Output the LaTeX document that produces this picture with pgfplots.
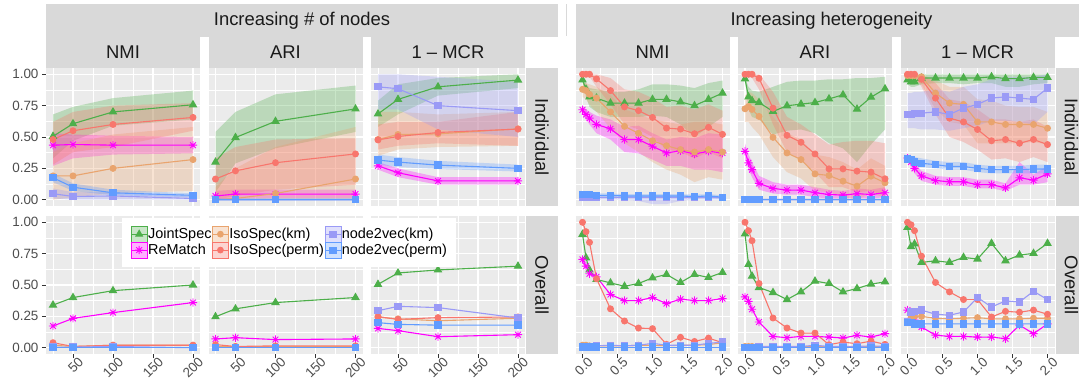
\documentclass[border=0pt]{standalone}
\usepackage{pgfplots}
\pgfplotsset{compat=1.18}
\usepackage{pgfplotstable}
\usepackage{fontspec}
\setmainfont{Liberation Sans}

\definecolor{cJS}{HTML}{4DAF4A}
\definecolor{cRM}{HTML}{FF00FF}
\definecolor{cIK}{HTML}{E9A46E}
\definecolor{cIP}{HTML}{F8766D}
\definecolor{cNK}{HTML}{9A9AF6}
\definecolor{cNP}{HTML}{619CFF}
\definecolor{panelbg}{HTML}{EBEBEB}
\definecolor{stripbg}{HTML}{D9D9D9}
\definecolor{striptext}{HTML}{1A1A1A}
\definecolor{ticktext}{HTML}{4D4D4D}
\definecolor{tickcol}{HTML}{333333}

% eight-armed asterisk (+ and x)
\pgfdeclareplotmark{ast8}{%
  \pgfpathmoveto{\pgfpoint{0pt}{\pgfplotmarksize}}%
  \pgfpathlineto{\pgfpoint{0pt}{-\pgfplotmarksize}}%
  \pgfpathmoveto{\pgfpoint{\pgfplotmarksize}{0pt}}%
  \pgfpathlineto{\pgfpoint{-\pgfplotmarksize}{0pt}}%
  \pgfpathmoveto{\pgfpoint{0.7071\pgfplotmarksize}{0.7071\pgfplotmarksize}}%
  \pgfpathlineto{\pgfpoint{-0.7071\pgfplotmarksize}{-0.7071\pgfplotmarksize}}%
  \pgfpathmoveto{\pgfpoint{0.7071\pgfplotmarksize}{-0.7071\pgfplotmarksize}}%
  \pgfpathlineto{\pgfpoint{-0.7071\pgfplotmarksize}{0.7071\pgfplotmarksize}}%
  \pgfusepathqstroke}

\tikzset{
  sJS/.style={cJS, line width=1.1bp, mark=triangle*, mark size=3.9bp, mark options={solid}},
  sRM/.style={cRM, line width=1.1bp, mark=ast8, mark size=4.1bp, mark options={solid, line width=0.9bp}},
  sIK/.style={cIK, line width=1.1bp, mark=*, mark size=2.9bp, mark options={solid}},
  sIP/.style={cIP, line width=1.1bp, mark=*, mark size=2.9bp, mark options={solid}},
  sNK/.style={cNK, line width=1.1bp, mark=square*, mark size=3.1bp, mark options={solid}},
  sNP/.style={cNP, line width=1.1bp, mark=square*, mark size=3.1bp, mark options={solid}},
}

\pgfplotsset{
  facet/.style={
    scale only axis, width=154bp, height=138bp, anchor=north west,
    ymin=-0.05, ymax=1.05,
    ytick={0,0.25,0.5,0.75,1}, minor ytick={0.125,0.375,0.625,0.875},
    yticklabels={0.00,0.25,0.50,0.75,1.00},
    axis background/.style={fill=panelbg},
    grid=both,
    major grid style={white, line width=1.1bp},
    minor grid style={white, line width=0.5bp},
    axis line style={draw=none},
    tick align=outside, major tick length=4bp, minor tick length=0pt,
    tick style={tickcol, line width=0.9bp},
    xtick pos=left, ytick pos=left,
    ticklabel style={font=\fontsize{13.5}{14}\selectfont, text=ticktext},
    /pgf/number format/assume math mode=true,
  },
  nodesx/.style={xmin=16.25, xmax=208.75, xtick={50,100,150,200},
    minor xtick={25,75,125,175}, xticklabels={50,100,150,200}},
  hetx/.style={xmin=-0.1, xmax=2.1, xtick={0,0.5,1,1.5,2},
    minor xtick={0.25,0.75,1.25,1.75}, xticklabels={0.0,0.5,1.0,1.5,2.0}},
  noxlab/.style={xticklabels={}, xtick style={draw=none}},
  noylab/.style={yticklabels={}, ytick style={draw=none}},
  xrot/.style={xticklabel style={xshift=4.5bp, yshift=3.5bp, rotate=45,
    anchor=north east, inner sep=1bp}},
}

% shaded bands: each column is a closed outline (upper edge, then lower edge back)
\newcommand{\allribbons}[1]{%
  \addplot[fill=cJS, fill opacity=0.3, draw=none, forget plot] table[x=x, y=js] {#1};
  \addplot[fill=cRM, fill opacity=0.3, draw=none, forget plot] table[x=x, y=rm] {#1};
  \addplot[fill=cIK, fill opacity=0.3, draw=none, forget plot] table[x=x, y=ik] {#1};
  \addplot[fill=cIP, fill opacity=0.3, draw=none, forget plot] table[x=x, y=ip] {#1};
  \addplot[fill=cNK, fill opacity=0.3, draw=none, forget plot] table[x=x, y=nk] {#1};
  \addplot[fill=cNP, fill opacity=0.3, draw=none, forget plot] table[x=x, y=np] {#1};
}
\newcommand{\alllines}[1]{%
  \addplot[sJS, forget plot] table[x=x, y=js] {#1};
  \addplot[sRM, forget plot] table[x=x, y=rm] {#1};
  \addplot[sIK, forget plot] table[x=x, y=ik] {#1};
  \addplot[sIP, forget plot] table[x=x, y=ip] {#1};
  \addplot[sNK, forget plot] table[x=x, y=nk] {#1};
  \addplot[sNP, forget plot] table[x=x, y=np] {#1};
}
% legend key: shaded box, line and mark
\newcommand{\legkey}[3]{%
  \fill[#1, fill opacity=0.3] (0bp,-7.75bp) rectangle (15.5bp,7.75bp);
  \draw[#1, line width=1.1bp] (0bp,0bp) -- (15.5bp,0bp);
  \draw[#1, mark size=#3, line width=0.9bp] plot[mark=#2] coordinates {(7.75bp,0bp)};
}

% ================= increasing number of nodes =================
% individual: means
\pgfplotstableread{
x   js    rm    ik   ip    nk    np
25  0.505 0.435 0.19 0.48  0.048 0.175
50  0.606 0.44  0.19 0.55  0.026 0.10
100 0.700 0.435 0.25 0.60  0.030 0.055
200 0.757 0.435 0.32 0.656 0.010 0.035
}\LIN
\pgfplotstableread{
x   js    rm    ik    ip    nk   np
25  0.30  0.03  0.00  0.165 0.00 0.00
50  0.496 0.045 0.01  0.23  0.00 0.00
100 0.625 0.045 0.05  0.295 0.00 0.00
200 0.724 0.045 0.165 0.365 0.00 0.00
}\LIA
\pgfplotstableread{
x   js    rm    ik    ip    nk    np
25  0.684 0.27  0.48  0.477 0.90  0.316
50  0.80  0.215 0.52  0.504 0.885 0.30
100 0.90  0.15  0.525 0.536 0.75  0.276
200 0.954 0.15  0.565 0.563 0.71  0.25
}\LIM
% individual: bands
\pgfplotstableread{
x   js   rm   ik   ip   nk   np
25  0.68 0.53 0.38 0.62 0.09 0.21
50  0.74 0.52 0.45 0.70 0.06 0.13
100 0.81 0.51 0.52 0.75 0.06 0.08
200 0.87 0.50 0.58 0.77 0.03 0.05
200 0.64 0.37 0.07 0.55 0.00 0.02
100 0.59 0.36 0.05 0.42 0.00 0.035
50  0.47 0.33 0.02 0.38 0.00 0.07
25  0.33 0.27 0.00 0.28 0.01 0.14
}\LINb
\pgfplotstableread{
x   js   rm    ik   ip   nk    np
25  0.54 0.07  0.10 0.33 0.01  0.01
50  0.70 0.08  0.25 0.42 0.01  0.01
100 0.84 0.08  0.42 0.48 0.01  0.01
200 0.91 0.08  0.58 0.49 0.01  0.01
200 0.54 0.015 0.00 0.12 -0.01 -0.01
100 0.41 0.015 0.00 0.08 -0.01 -0.01
50  0.29 0.01  0.00 0.03 -0.01 -0.01
25  0.06 0.00  0.00 0.00 -0.01 -0.01
}\LIAb
\pgfplotstableread{
x   js   rm   ik   ip   nk   np
25  0.79 0.30 0.70 0.60 1.00 0.36
50  0.92 0.25 0.70 0.62 1.00 0.34
100 0.97 0.18 0.68 0.62 0.98 0.31
200 1.00 0.18 0.70 0.70 0.94 0.28
200 0.89 0.12 0.43 0.43 0.50 0.225
100 0.83 0.12 0.42 0.45 0.56 0.245
50  0.68 0.18 0.40 0.43 0.72 0.26
25  0.58 0.24 0.35 0.40 0.72 0.28
}\LIMb
% overall
\pgfplotstableread{
x   js    rm    ik   ip   nk    np
25  0.34  0.173 0.02 0.04 0.005 0.00
50  0.40  0.234 0.01 0.01 0.005 0.00
100 0.455 0.28  0.02 0.02 0.01  0.00
200 0.50  0.36  0.02 0.02 0.00  0.00
}\LON
\pgfplotstableread{
x   js    rm    ik   ip    nk   np
25  0.247 0.07  0.01 0.025 0.00 0.00
50  0.31  0.08  0.01 0.01  0.00 0.00
100 0.36  0.065 0.01 0.015 0.00 0.00
200 0.40  0.07  0.01 0.015 0.00 0.00
}\LOA
\pgfplotstableread{
x   js    rm    ik    ip    nk    np
25  0.505 0.154 0.245 0.247 0.295 0.20
50  0.596 0.136 0.23  0.226 0.33  0.186
100 0.62  0.088 0.215 0.24  0.32  0.18
200 0.65  0.104 0.235 0.245 0.237 0.18
}\LOM

% ================= increasing heterogeneity =================
% individual: means
\pgfplotstableread{
x    js    rm    ik    ip    nk    np
0    0.955 0.717 0.88  1.00  0.015 0.04
0.05 0.88  0.68  0.87  1.00  0.015 0.04
0.1  0.82  0.65  0.84  1.00  0.015 0.04
0.2  0.81  0.60  0.81  0.963 0.015 0.035
0.4  0.77  0.565 0.70  0.87  0.015 0.035
0.6  0.77  0.48  0.585 0.74  0.015 0.03
0.8  0.77  0.48  0.53  0.71  0.015 0.03
1.0  0.80  0.426 0.47  0.656 0.015 0.03
1.2  0.80  0.373 0.43  0.571 0.015 0.03
1.4  0.78  0.39  0.40  0.563 0.015 0.03
1.6  0.75  0.365 0.38  0.526 0.015 0.025
1.8  0.80  0.386 0.40  0.577 0.015 0.03
2.0  0.85  0.373 0.38  0.521 0.015 0.02
}\RIN
\pgfplotstableread{
x    js    rm    ik    ip    nk   np
0    0.963 0.386 0.725 1.00  0.00 0.00
0.05 0.82  0.294 0.743 1.00  0.00 0.00
0.1  0.79  0.24  0.72  1.00  0.00 0.00
0.2  0.775 0.13  0.664 0.968 0.00 0.00
0.4  0.704 0.09  0.497 0.73  0.00 0.00
0.6  0.749 0.077 0.373 0.513 0.00 0.00
0.8  0.762 0.077 0.32  0.458 0.00 0.00
1.0  0.775 0.056 0.206 0.365 0.00 0.00
1.2  0.804 0.042 0.193 0.246 0.00 0.00
1.4  0.836 0.037 0.148 0.246 0.00 0.00
1.6  0.722 0.048 0.108 0.228 0.00 0.00
1.8  0.817 0.042 0.188 0.22  0.00 0.00
2.0  0.884 0.056 0.135 0.167 0.00 0.00
}\RIA
\pgfplotstableread{
x    js    rm    ik   ip   nk    np
0    0.955 0.333 0.99 1.00 0.677 0.325
0.05 0.94  0.30  0.99 1.00 0.68  0.32
0.1  0.94  0.25  0.99 1.00 0.685 0.30
0.2  0.97  0.19  0.98 0.96 0.69  0.29
0.4  0.97  0.153 0.85 0.81 0.70  0.28
0.6  0.97  0.143 0.77 0.65 0.68  0.265
0.8  0.97  0.143 0.76 0.62 0.73  0.265
1.0  0.97  0.12  0.62 0.56 0.76  0.25
1.2  0.98  0.12  0.62 0.47 0.81  0.24
1.4  0.965 0.095 0.60 0.48 0.82  0.24
1.6  0.965 0.175 0.60 0.45 0.81  0.24
1.8  0.975 0.156 0.60 0.48 0.80  0.245
2.0  0.975 0.206 0.57 0.44 0.89  0.245
}\RIM
% individual: bands
\pgfplotstableread{
x    js   rm   ik   ip   nk     np
0    0.97 0.75 0.93 1.00 0.03   0.055
0.05 0.93 0.72 0.93 1.00 0.03   0.055
0.1  0.89 0.70 0.92 1.00 0.03   0.055
0.2  0.88 0.67 0.90 1.00 0.03   0.05
0.4  0.86 0.64 0.83 0.97 0.03   0.05
0.6  0.86 0.58 0.72 0.88 0.03   0.045
0.8  0.88 0.59 0.68 0.86 0.03   0.045
1.0  0.92 0.53 0.64 0.81 0.03   0.045
1.2  0.92 0.48 0.62 0.74 0.03   0.045
1.4  0.91 0.50 0.60 0.75 0.03   0.045
1.6  0.89 0.49 0.62 0.72 0.03   0.04
1.8  0.93 0.53 0.62 0.76 0.03   0.045
2.0  0.95 0.52 0.60 0.71 0.03   0.035
2.0  0.66 0.22 0.16 0.33 0.00   0.005
1.8  0.58 0.24 0.18 0.38 0.00   0.015
1.6  0.50 0.24 0.14 0.33 0.00   0.01
1.4  0.60 0.27 0.20 0.38 -0.01  0.015
1.2  0.66 0.27 0.24 0.40 -0.035 0.015
1.0  0.67 0.32 0.30 0.50 -0.035 0.015
0.8  0.66 0.37 0.38 0.56 -0.01  0.015
0.6  0.66 0.38 0.45 0.60 0.00   0.015
0.4  0.66 0.48 0.57 0.76 0.00   0.02
0.2  0.70 0.53 0.70 0.90 0.00   0.02
0.1  0.74 0.60 0.76 0.98 0.00   0.025
0.05 0.82 0.64 0.80 1.00 0.00   0.025
0    0.94 0.68 0.82 1.00 0.00   0.025
}\RINb
\pgfplotstableread{
x    js   rm    ik   ip   nk    np
0    0.97 0.45  0.83 1.00 0.01  0.005
0.05 0.90 0.36  0.86 1.00 0.01  0.005
0.1  0.87 0.30  0.85 1.00 0.01  0.005
0.2  0.86 0.19  0.80 1.00 0.01  0.005
0.4  0.90 0.14  0.66 0.86 0.01  0.005
0.6  0.94 0.12  0.53 0.66 0.01  0.005
0.8  0.95 0.12  0.48 0.60 0.01  0.005
1.0  0.95 0.10  0.36 0.52 0.01  0.005
1.2  0.96 0.08  0.34 0.44 0.01  0.005
1.4  0.96 0.07  0.30 0.46 0.01  0.005
1.6  0.97 0.09  0.24 0.47 0.01  0.005
1.8  0.97 0.08  0.33 0.47 0.01  0.005
2.0  0.98 0.10  0.27 0.45 0.01  0.005
2.0  0.56 0.02  0.02 0.03 -0.01 -0.005
1.8  0.44 0.01  0.05 0.07 -0.01 -0.005
1.6  0.30 0.015 0.00 0.06 -0.01 -0.005
1.4  0.41 0.01  0.02 0.10 -0.01 -0.005
1.2  0.45 0.01  0.06 0.10 -0.01 -0.005
1.0  0.53 0.02  0.07 0.22 -0.01 -0.005
0.8  0.56 0.04  0.17 0.32 -0.01 -0.005
0.6  0.55 0.04  0.22 0.38 -0.01 -0.005
0.4  0.52 0.05  0.34 0.60 -0.01 -0.005
0.2  0.64 0.08  0.52 0.88 -0.01 -0.005
0.1  0.66 0.18  0.58 0.97 -0.01 -0.005
0.05 0.72 0.24  0.62 0.99 -0.01 -0.005
0    0.95 0.33  0.62 1.00 -0.01 -0.005
}\RIAb
\pgfplotstableread{
x    js   rm   ik   ip   nk   np
0    0.99 0.35 1.00 1.00 0.85 0.36
0.05 0.99 0.33 1.00 1.00 0.85 0.35
0.1  0.99 0.29 1.00 1.00 0.86 0.34
0.2  1.00 0.23 1.00 1.00 0.86 0.33
0.4  1.00 0.19 0.95 0.93 0.88 0.31
0.6  1.00 0.18 0.90 0.80 0.86 0.30
0.8  1.00 0.18 0.90 0.78 0.90 0.30
1.0  1.00 0.16 0.80 0.72 0.92 0.28
1.2  1.00 0.16 0.79 0.64 0.96 0.27
1.4  1.00 0.13 0.75 0.64 0.98 0.27
1.6  1.00 0.30 0.74 0.62 0.98 0.27
1.8  1.00 0.20 0.74 0.64 0.98 0.28
2.0  1.00 0.27 0.70 0.58 1.00 0.28
2.0  0.93 0.14 0.44 0.30 0.70 0.21
1.8  0.92 0.12 0.46 0.34 0.60 0.21
1.6  0.90 0.12 0.45 0.30 0.62 0.21
1.4  0.90 0.07 0.45 0.33 0.63 0.21
1.2  0.93 0.09 0.45 0.32 0.63 0.21
1.0  0.93 0.09 0.45 0.40 0.59 0.22
0.8  0.92 0.11 0.60 0.46 0.57 0.24
0.6  0.93 0.11 0.62 0.50 0.55 0.24
0.4  0.93 0.12 0.72 0.68 0.56 0.25
0.2  0.92 0.15 0.92 0.90 0.56 0.26
0.1  0.90 0.21 0.95 0.98 0.57 0.27
0.05 0.90 0.27 0.97 0.99 0.57 0.29
0    0.92 0.31 0.97 1.00 0.57 0.29
}\RIMb
% overall
\pgfplotstableread{
x    js    rm    ik    ip    nk    np
0    0.904 0.704 0.02  1.00  0.01  0.005
0.05 0.717 0.65  0.02  0.925 0.01  0.005
0.1  0.62  0.59  0.015 0.84  0.01  0.005
0.2  0.544 0.565 0.015 0.55  0.015 0.005
0.4  0.517 0.424 0.015 0.31  0.02  0.005
0.6  0.49  0.376 0.015 0.213 0.015 0.005
0.8  0.512 0.376 0.02  0.157 0.02  0.005
1.0  0.557 0.40  0.02  0.152 0.035 0.005
1.2  0.584 0.352 0.015 0.027 0.02  0.005
1.4  0.52  0.387 0.02  0.083 0.02  0.005
1.6  0.584 0.376 0.02  0.05  0.02  0.005
1.8  0.56  0.376 0.025 0.077 0.035 0.005
2.0  0.60  0.392 0.04  0.04  0.045 0.005
}\RON
\pgfplotstableread{
x    js    rm    ik   ip    nk    np
0    0.907 0.405 0.01 1.00  0.00  0.00
0.05 0.664 0.37  0.01 0.933 0.00  0.00
0.1  0.571 0.307 0.01 0.853 0.00  0.00
0.2  0.48  0.205 0.01 0.512 0.01  0.00
0.4  0.44  0.09  0.01 0.237 0.01  0.00
0.6  0.384 0.08  0.01 0.157 0.01  0.00
0.8  0.445 0.09  0.01 0.117 0.01  0.00
1.0  0.531 0.09  0.01 0.117 0.02  0.00
1.2  0.512 0.085 0.01 0.024 0.01  0.00
1.4  0.445 0.077 0.01 0.045 0.01  0.00
1.6  0.472 0.099 0.01 0.032 0.01  0.00
1.8  0.507 0.085 0.01 0.053 0.015 0.00
2.0  0.525 0.112 0.01 0.027 0.01  0.00
}\ROA
\pgfplotstableread{
x    js    rm    ik    ip    nk    np
0    0.96  0.30  0.20  1.00  0.205 0.20
0.05 0.805 0.26  0.24  0.98  0.285 0.20
0.1  0.827 0.22  0.25  0.933 0.29  0.19
0.2  0.68  0.165 0.25  0.73  0.30  0.19
0.4  0.693 0.10  0.235 0.52  0.267 0.19
0.6  0.68  0.09  0.23  0.445 0.259 0.19
0.8  0.72  0.09  0.235 0.384 0.285 0.19
1.0  0.707 0.085 0.24  0.384 0.40  0.19
1.2  0.832 0.085 0.23  0.245 0.325 0.19
1.4  0.693 0.072 0.23  0.29  0.373 0.19
1.6  0.739 0.18  0.23  0.283 0.365 0.19
1.8  0.752 0.112 0.235 0.30  0.45  0.19
2.0  0.832 0.19  0.235 0.267 0.384 0.19
}\ROM

\newcommand{\stripfont}{\fontsize{18.5}{20}\selectfont}

\begin{document}
\begin{tikzpicture}
\useasboundingbox (0bp,0bp) rectangle (1079bp,-379bp);

% ---- strips ----
\fill[stripbg] (46bp,-4bp) rectangle (558bp,-37bp);
\node[text=striptext, font=\stripfont] at (302bp,-20.5bp) {Increasing \# of nodes};
\fill[stripbg] (575.5bp,-4bp) rectangle (1079bp,-37bp);
\node[text=striptext, font=\stripfont] at (831.5bp,-20.5bp) {Increasing heterogeneity};
\draw[stripbg, line width=1bp] (566bp,-4bp) -- (566bp,-36bp);
\foreach \px/\lab in {46/NMI, 208.5/ARI, 371/1 -- MCR, 575.5/NMI, 738/ARI, 900.5/1 -- MCR}{
  \fill[stripbg] (\px bp,-37bp) rectangle ({\px bp+154bp},-68bp);
  \node[text=striptext, font=\stripfont] at ({\px bp+77bp},-52.5bp) {\lab};
}
\fill[stripbg] (526bp,-68bp) rectangle (558bp,-206bp);
\node[text=striptext, font=\stripfont, rotate=-90] at (542bp,-137bp) {Individual};
\fill[stripbg] (526bp,-216bp) rectangle (558bp,-354bp);
\node[text=striptext, font=\stripfont, rotate=-90] at (542bp,-285bp) {Overall};
\fill[stripbg] (1055.5bp,-68bp) rectangle (1079bp,-206bp);
\node[text=striptext, font=\stripfont, rotate=-90] at (1071.5bp,-137bp) {Individual};
\fill[stripbg] (1055.5bp,-216bp) rectangle (1079bp,-354bp);
\node[text=striptext, font=\stripfont, rotate=-90] at (1071.5bp,-285bp) {Overall};

% ---- increasing number of nodes ----
\begin{axis}[facet, nodesx, noxlab, at={(46bp,-68bp)}]
  \allribbons{\LINb}\alllines{\LIN}
\end{axis}
\begin{axis}[facet, nodesx, noxlab, noylab, at={(208.5bp,-68bp)}]
  \allribbons{\LIAb}\alllines{\LIA}
\end{axis}
\begin{axis}[facet, nodesx, noxlab, noylab, at={(371bp,-68bp)}]
  \allribbons{\LIMb}\alllines{\LIM}
\end{axis}
\begin{axis}[facet, nodesx, xrot, at={(46bp,-216bp)}]
  \alllines{\LON}
\end{axis}
\begin{axis}[facet, nodesx, xrot, noylab, at={(208.5bp,-216bp)}]
  \alllines{\LOA}
\end{axis}
\begin{axis}[facet, nodesx, xrot, noylab, at={(371bp,-216bp)},
  legend columns=3, legend cell align=left,
  legend style={at={(-1.617,0.989)}, anchor=north west, draw=none, fill=white,
    inner xsep=8.7bp, inner ysep=8.5bp, column sep=0pt, row sep=0pt,
    font=\fontsize{14.5}{15}\selectfont, text=black,
    nodes={inner xsep=0.6bp, inner ysep=0bp}}]
  \alllines{\LOM}
  \addlegendimage{legend image code/.code={\legkey{cJS}{triangle*}{3.9bp}}}
  \addlegendentry{JointSpec}
  \addlegendimage{legend image code/.code={\legkey{cIK}{*}{2.9bp}}}
  \addlegendentry{IsoSpec(km)}
  \addlegendimage{legend image code/.code={\legkey{cNK}{square*}{3.1bp}}}
  \addlegendentry{node2vec(km)}
  \addlegendimage{legend image code/.code={\legkey{cRM}{ast8}{4.1bp}}}
  \addlegendentry{ReMatch}
  \addlegendimage{legend image code/.code={\legkey{cIP}{*}{2.9bp}}}
  \addlegendentry{IsoSpec(perm)}
  \addlegendimage{legend image code/.code={\legkey{cNP}{square*}{3.1bp}}}
  \addlegendentry{node2vec(perm)}
\end{axis}

% ---- increasing heterogeneity ----
\begin{axis}[facet, hetx, noxlab, noylab, at={(575.5bp,-68bp)}]
  \allribbons{\RINb}\alllines{\RIN}
\end{axis}
\begin{axis}[facet, hetx, noxlab, noylab, at={(738bp,-68bp)}]
  \allribbons{\RIAb}\alllines{\RIA}
\end{axis}
\begin{axis}[facet, hetx, noxlab, noylab, at={(900.5bp,-68bp)}]
  \allribbons{\RIMb}\alllines{\RIM}
\end{axis}
\begin{axis}[facet, hetx, xrot, noylab, at={(575.5bp,-216bp)}]
  \alllines{\RON}
\end{axis}
\begin{axis}[facet, hetx, xrot, noylab, at={(738bp,-216bp)}]
  \alllines{\ROA}
\end{axis}
\begin{axis}[facet, hetx, xrot, noylab, at={(900.5bp,-216bp)}]
  \alllines{\ROM}
\end{axis}
\end{tikzpicture}
\end{document}
